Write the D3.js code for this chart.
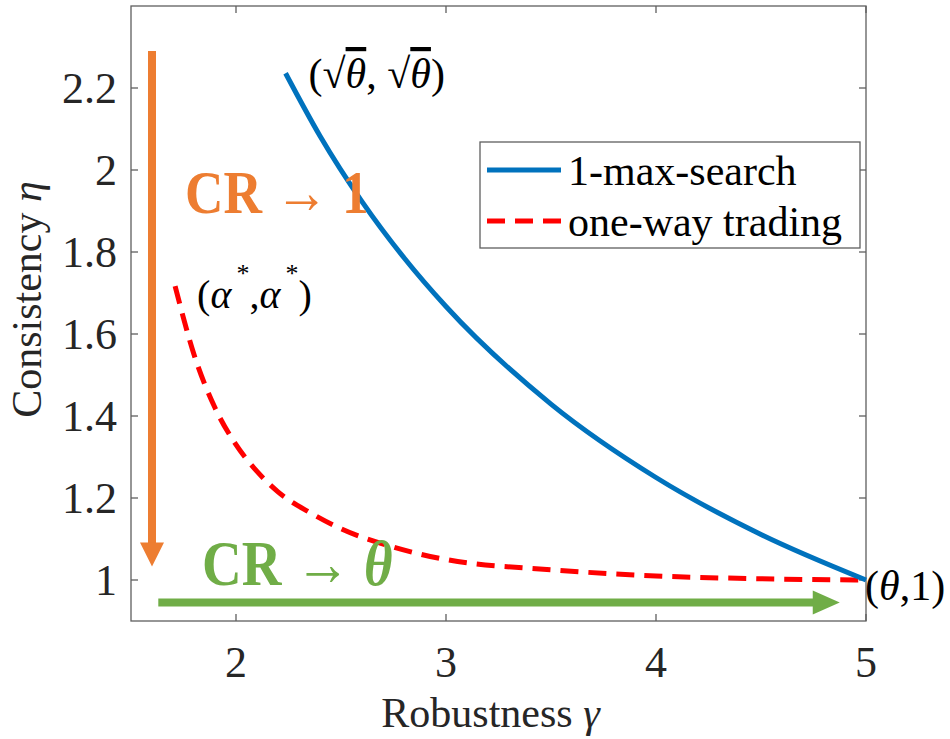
<!DOCTYPE html>
<html>
<head>
<meta charset="utf-8">
<script src="https://cdn.jsdelivr.net/npm/d3@7"></script>
</head>
<body style="margin:0">
<script>
// chart values
const xTicks = [2, 3, 4, 5];
const yTicks = [1, 1.2, 1.4, 1.6, 1.8, 2, 2.2];

// 1-max-search
const gammaMax = [2.236, 2.4, 2.6, 2.8, 3.0, 3.5, 4.0, 4.5, 5.0];
const etaMax   = [2.236, 2.083, 1.923, 1.786, 1.667, 1.429, 1.25, 1.111, 1.0];

// one-way trading
const gammaOwt = [1.71, 1.8, 1.9, 2.0, 2.1, 2.2, 2.35, 2.5, 2.75, 3.0, 3.5, 4.0, 4.5, 5.0];
const etaOwt   = [1.717, 1.55, 1.42, 1.33, 1.265, 1.215, 1.165, 1.125, 1.08, 1.05, 1.025, 1.01, 1.003, 1.0];

const seriesNames = ["1-max-search", "one-way trading"];

const W = 950, H = 739;
const plot = {left: 131, right: 866, top: 6, bottom: 621};

const FONT = '"Liberation Serif"';
const axisGray = "#5f5f5f";
const labelColor = "#262626";
const orange = "#ED7D31", green = "#70AD47";

const svg = d3.select("body").append("svg")
  .attr("width", W)
  .attr("height", H);

const x = d3.scaleLinear().domain([1.5, 5]).range([plot.left, plot.right]);
const y = d3.scaleLinear().domain([0.9, 2.4]).range([plot.bottom, plot.top]);

function txt(parent, px, py, size) {
  return parent.append("text")
    .attr("x", px).attr("y", py)
    .attr("font-family", FONT)
    .attr("font-size", size);
}

// axes: box on, ticks pointing inward, labels drawn as plain text
const frame = svg.append("g");
frame.append("rect")
  .attr("x", plot.left).attr("y", plot.top)
  .attr("width", plot.right - plot.left).attr("height", plot.bottom - plot.top)
  .attr("fill", "none").attr("stroke", axisGray).attr("stroke-width", 1.3);

xTicks.forEach(t => {
  frame.append("line").attr("x1", x(t)).attr("x2", x(t))
    .attr("y1", plot.bottom).attr("y2", plot.bottom - 7)
    .attr("stroke", axisGray).attr("stroke-width", 1.3);
  frame.append("line").attr("x1", x(t)).attr("x2", x(t))
    .attr("y1", plot.top).attr("y2", plot.top + 7)
    .attr("stroke", axisGray).attr("stroke-width", 1.3);
  txt(svg, x(t), plot.bottom + 56, 44)
    .attr("text-anchor", "middle")
    .attr("fill", labelColor)
    .text(d3.format("d")(t));
});

yTicks.forEach(t => {
  frame.append("line").attr("x1", plot.left).attr("x2", plot.left + 7)
    .attr("y1", y(t)).attr("y2", y(t))
    .attr("stroke", axisGray).attr("stroke-width", 1.3);
  frame.append("line").attr("x1", plot.right).attr("x2", plot.right - 7)
    .attr("y1", y(t)).attr("y2", y(t))
    .attr("stroke", axisGray).attr("stroke-width", 1.3);
  txt(svg, plot.left - 14, y(t) + 15, 44)
    .attr("text-anchor", "end")
    .attr("fill", labelColor)
    .text(Number.isInteger(t) ? String(t) : t.toFixed(1));
});

// axis titles
const xTitle = txt(svg, (plot.left + plot.right) / 2 - 8, 727, 42)
  .attr("text-anchor", "middle")
  .attr("fill", labelColor);
xTitle.append("tspan").text("Robustness ");
xTitle.append("tspan").attr("font-style", "italic").text("γ");

const yTitle = txt(svg, 0, 0, 42)
  .attr("transform", `translate(41,${(plot.top + plot.bottom) / 2 - 14}) rotate(-90)`)
  .attr("text-anchor", "middle")
  .attr("fill", labelColor);
yTitle.append("tspan").text("Consistency ");
yTitle.append("tspan").attr("font-style", "italic").text("η");

// annotation arrows (behind curves)
function vArrow(xv, y0, y1, color) {
  const px = x(xv), top = y(y0), tip = y(y1);
  svg.append("line")
    .attr("x1", px).attr("x2", px)
    .attr("y1", top).attr("y2", tip - 22)
    .attr("stroke", color).attr("stroke-width", 8);
  svg.append("path")
    .attr("d", d3.line()([[px - 12, tip - 24], [px + 12, tip - 24], [px, tip]]) + "Z")
    .attr("fill", color);
}

function hArrow(yv, x0, x1, color) {
  const py = y(yv), left = x(x0), tip = x(x1);
  svg.append("line")
    .attr("x1", left).attr("x2", tip - 24)
    .attr("y1", py).attr("y2", py)
    .attr("stroke", color).attr("stroke-width", 8);
  svg.append("path")
    .attr("d", d3.line()([[tip - 27, py - 12], [tip - 27, py + 12], [tip, py]]) + "Z")
    .attr("fill", color);
}

vArrow(1.6, 2.29, 1.033, orange);
hArrow(0.945, 1.63, 4.875, green);

// curves
const line = d3.line()
  .x(d => x(d[0]))
  .y(d => y(d[1]))
  .curve(d3.curveMonotoneX);

const maxPts = gammaMax.map((g, i) => [g, etaMax[i]]);
const owtPts = gammaOwt.map((g, i) => [g, etaOwt[i]]);

svg.append("path")
  .datum(owtPts)
  .attr("d", line)
  .attr("fill", "none")
  .attr("stroke", "#FF0000")
  .attr("stroke-width", 5)
  .attr("stroke-dasharray", "18,10");

svg.append("path")
  .datum(maxPts)
  .attr("d", line)
  .attr("fill", "none")
  .attr("stroke", "#0072BD")
  .attr("stroke-width", 5);

// CR labels (bold, slightly condensed)
const cr1 = txt(svg, 0, 0, 62)
  .attr("transform", "translate(185,213) scale(0.86,1)")
  .attr("fill", orange)
  .attr("font-weight", "bold");
cr1.append("tspan").text("CR ");
cr1.append("tspan").attr("font-weight", "normal").text("→");
cr1.append("tspan").text(" 1");

const crT = txt(svg, 0, 0, 64)
  .attr("transform", "translate(202,585) scale(0.86,1)")
  .attr("fill", green)
  .attr("font-weight", "bold");
crT.append("tspan").text("CR ");
crT.append("tspan").attr("font-weight", "normal").text("→");
crT.append("tspan").text(" ");
crT.append("tspan").attr("font-style", "italic").text("θ");

// point labels
const sq = txt(svg, x(gammaMax[0]) + 23, 88, 42).attr("fill", "#000");
sq.append("tspan").text("(√");
sq.append("tspan").attr("font-style", "italic").attr("text-decoration", "overline").text("θ");
sq.append("tspan").text(", √");
sq.append("tspan").attr("font-style", "italic").attr("text-decoration", "overline").text("θ");
sq.append("tspan").text(")");

const al = txt(svg, x(gammaOwt[0]) + 22, 308, 40).attr("fill", "#000");
al.append("tspan").text("(");
al.append("tspan").attr("font-style", "italic").text("α");
al.append("tspan").attr("dx", 5).attr("dy", -26).attr("font-size", 26).text("*");
al.append("tspan").attr("dy", 26).text(",");
al.append("tspan").attr("font-style", "italic").text("α");
al.append("tspan").attr("dx", 5).attr("dy", -26).attr("font-size", 26).text("*");
al.append("tspan").attr("dy", 26).text(")");

const th = txt(svg, x(5) - 1, 600, 42).attr("fill", "#000");
th.append("tspan").text("(");
th.append("tspan").attr("font-style", "italic").text("θ");
th.append("tspan").text(",1)");

// legend
const legend = svg.append("g");
legend.append("rect")
  .attr("x", 480).attr("y", 142)
  .attr("width", 380).attr("height", 106)
  .attr("fill", "#fff")
  .attr("stroke", axisGray)
  .attr("stroke-width", 1.3);

const legendStyles = [
  {color: "#0072BD", dash: null},
  {color: "#FF0000", dash: "18,10"}
];

seriesNames.forEach((name, i) => {
  const ly = 170 + i * 51;
  legend.append("line")
    .attr("x1", 487).attr("x2", 561)
    .attr("y1", ly).attr("y2", ly)
    .attr("stroke", legendStyles[i].color)
    .attr("stroke-width", 5)
    .attr("stroke-dasharray", legendStyles[i].dash);
  txt(legend, 568, ly + 15, 42)
    .attr("fill", "#000")
    .text(name);
});
</script>
</body>
</html>
